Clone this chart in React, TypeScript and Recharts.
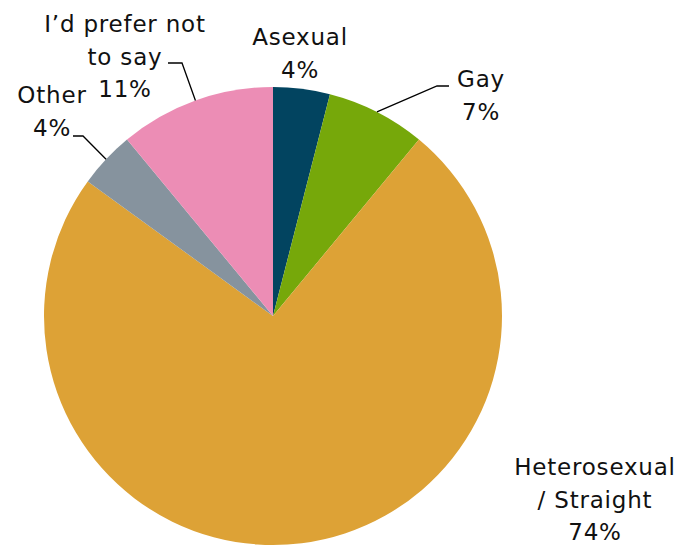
import React from 'react';
import { PieChart, Pie, Cell } from 'recharts';

const NAMES = ['Asexual', 'Gay', 'Heterosexual / Straight', 'Other', 'I’d prefer not to say'];
const VALUES = [4, 7, 74, 4, 11];
const LABEL_LINES = [['Asexual'], ['Gay'], ['Heterosexual', '/ Straight'], ['Other'], ['I’d prefer not', 'to say']];
const COLORS = ['#024460', '#76A80A', '#DDA236', '#86939E', '#EC8DB5'];

// label layout, offsets from pie centre
const LABEL_POS: { [k: string]: { dx: number; dy: number; leader?: number[] } } = {
  'Asexual': { dx: 27, dy: -271 },
  'Gay': { dx: 208, dy: -229, leader: [164, -230, 176, -230] },
  'Heterosexual / Straight': { dx: 322, dy: 159 },
  'Other': { dx: -221, dy: -213, leader: [-190, -180, -200, -180] },
  'I’d prefer not to say': { dx: -148, dy: -284, leader: [-91, -253, -105, -253] },
};

const data = NAMES.map((name, i) => ({ name, value: VALUES[i], lines: LABEL_LINES[i] }));

const RAD = Math.PI / 180;
const LINE_H = 32.5;

const renderLabel = (props: any) => {
  const { cx, cy, midAngle, outerRadius, index } = props;
  const d = data[index];
  const pos = LABEL_POS[d.name];
  const lines = [...d.lines, `${d.value}%`];
  const x = cx + pos.dx;
  const y = cy + pos.dy;
  let leader = null;
  if (pos.leader) {
    const sx = cx + outerRadius * Math.cos(-midAngle * RAD);
    const sy = cy + outerRadius * Math.sin(-midAngle * RAD);
    const [ex, ey, tx, ty] = pos.leader;
    leader = (
      <polyline
        points={`${sx},${sy} ${cx + ex},${cy + ey} ${cx + tx},${cy + ty}`}
        fill="none"
        stroke="#000"
        strokeWidth={1.3}
      />
    );
  }
  return (
    <g key={`lbl-${index}`}>
      {leader}
      <text
        x={x}
        y={y}
        textAnchor="middle"
        fill="#111"
        fontSize={23}
        letterSpacing={0.8}
        fontFamily="'DejaVu Sans', sans-serif"
      >
        {lines.map((l, i) => (
          <tspan key={i} x={x} y={y + i * LINE_H}>{l}</tspan>
        ))}
      </text>
    </g>
  );
};

export default function App() {
  return (
    <div style={{ position: 'absolute', left: 0, top: 0, background: '#fff' }}>
      <PieChart width={683} height={547} margin={{ top: 0, right: 0, bottom: 0, left: 0 }}>
        <Pie
          data={data}
          dataKey="value"
          cx={273}
          cy={316}
          outerRadius={229}
          startAngle={90}
          endAngle={-270}
          stroke="none"
          label={renderLabel}
          labelLine={false}
          isAnimationActive={false}
        >
          {data.map((entry, index) => (
            <Cell key={`cell-${index}`} fill={COLORS[index]} />
          ))}
        </Pie>
      </PieChart>
    </div>
  );
}
